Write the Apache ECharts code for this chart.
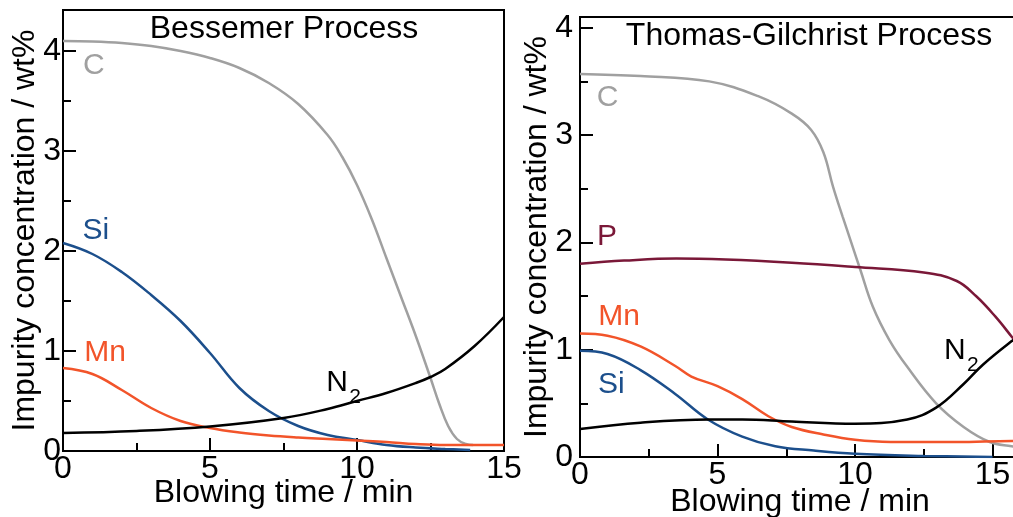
<!DOCTYPE html>
<html><head><meta charset="utf-8">
<script src="https://cdn.jsdelivr.net/npm/echarts@6/dist/echarts.min.js"></script>
<style>html,body{margin:0;padding:0;background:#fff}#c{width:1013px;height:517px}</style>
</head><body><div id="c"></div><script>
// ---- data (time in min, concentration in wt%) ----
const bessemerC  = [[0,4.10],[1,4.095],[2,4.08],[3,4.05],[4,4.00],[5,3.93],[6,3.83],[7,3.68],[8,3.47],[9,3.16],[9.5,2.94],[10,2.66],[10.5,2.32],[11,1.93],[11.5,1.54],[12,1.15],[12.5,0.73],[12.8,0.47],[13.1,0.25],[13.4,0.12],[13.7,0.07],[13.95,0.06]];
const bessemerSi = [[0,2.08],[1,1.97],[2,1.79],[3,1.56],[4,1.30],[5,0.98],[6,0.63],[7,0.40],[8,0.25],[9,0.16],[10,0.11],[11,0.06],[12,0.035],[13,0.02],[13.85,0.01]];
const bessemerMn = [[0,0.83],[1,0.77],[2,0.61],[3,0.43],[4,0.30],[5,0.23],[6,0.185],[7,0.155],[8,0.135],[9,0.12],[10,0.105],[11,0.09],[12,0.07],[13,0.06],[14,0.06],[15,0.06]];
const bessemerN2 = [[0,0.18],[2.5,0.20],[5,0.245],[7.5,0.33],[9,0.42],[10,0.50],[11,0.58],[12,0.68],[12.5,0.74],[13,0.82],[14,1.05],[15,1.34]];

const thomasC  = [[0,3.57],[2.2,3.55],[4.7,3.50],[6.5,3.36],[7.7,3.20],[8.4,3.05],[8.85,2.84],[9.2,2.52],[9.55,2.24],[9.85,2.01],[10.2,1.74],[10.65,1.40],[11.25,1.09],[11.9,0.84],[12.95,0.50],[13.95,0.28],[14.9,0.14],[15.7,0.10],[16,0.09]];
const thomasP  = [[0,1.80],[1.6,1.83],[3.5,1.85],[5.3,1.84],[7.7,1.81],[10,1.77],[12.5,1.72],[13.7,1.64],[14.4,1.50],[15.1,1.31],[15.7,1.12],[16,1.02]];
const thomasMn = [[0,1.15],[1.0,1.13],[2.2,1.03],[3.45,0.85],[4.05,0.75],[5.0,0.66],[5.9,0.54],[6.85,0.38],[7.7,0.28],[8.85,0.21],[10,0.16],[11.3,0.14],[13.7,0.14],[15.7,0.15],[16,0.15]];
const thomasSi = [[0,0.99],[1.0,0.96],[2.2,0.81],[3.45,0.59],[4.65,0.35],[5.9,0.19],[7.1,0.10],[8.5,0.06],[10,0.03],[12.5,0.01],[15,0.0]];
const thomasN2 = [[0,0.26],[2.2,0.32],[4.7,0.35],[5.9,0.35],[7.7,0.33],[10,0.31],[11.9,0.35],[12.95,0.46],[13.95,0.68],[14.65,0.86],[15.7,1.08],[16,1.13]];

const panelTitles = ['Bessemer Process', 'Thomas-Gilchrist Process'];
const xName = 'Blowing time / min';
const yName = 'Impurity concentration / wt%';

// ---- styling ----
const FONT = '"Liberation Sans", Arial, Helvetica, sans-serif';
const COL = { C:'#a0a0a0', Si:'#1c4f8c', Mn:'#f2542a', P:'#7a1838', N2:'#000000' };

const chart = echarts.init(document.getElementById('c'), null, {renderer:'canvas'});

function majorAxis(grid, max, interval, pos, extra) {
  return Object.assign({
    gridIndex: grid, type:'value', min:0, max:max, interval:interval, position:pos,
    axisLine:{show:true, onZero:false, lineStyle:{color:'#000', width:2}},
    axisTick:{show:true, inside:true, length:13, lineStyle:{color:'#000', width:2}},
    splitLine:{show:false},
    nameLocation:'middle', nameMoveOverlap:false,
    nameTextStyle:{color:'#000', fontSize:32, fontFamily:FONT}
  }, extra || {});
}
function minorAxis(grid, max, interval, pos) {
  return {
    gridIndex: grid, type:'value', min:0, max:max, interval:interval, position:pos, offset:0,
    axisLine:{show:false, onZero:false},
    axisTick:{show:true, inside:true, length:8, lineStyle:{color:'#000', width:2}},
    axisLabel:{show:false}, splitLine:{show:false}
  };
}
function line(name, data, xi, yi, color) {
  return { type:'line', name, data, xAxisIndex:xi, yAxisIndex:yi, showSymbol:false, symbol:'none',
    smooth:0.4, lineStyle:{color, width:2.5}, itemStyle:{color}, silent:true, animation:false, z:3 };
}
const lbl = (margin) => ({show:true, color:'#000', fontSize:32, fontFamily:FONT, margin, showMaxLabel:false});

const option = {
  backgroundColor:'#fff',
  animation:false,
  grid:[
    {left:63, right:509, top:10, bottom:66, show:true, borderColor:'#000', borderWidth:2, outerBoundsMode:'none', containLabel:false},
    {left:580, right:-7, top:17, bottom:60, show:true, borderColor:'#000', borderWidth:2, outerBoundsMode:'none', containLabel:false}
  ],
  xAxis:[
    majorAxis(0, 15, 5, 'bottom', {name:xName, nameGap:26, axisLabel:Object.assign(lbl(2), {showMaxLabel:true})}),
    majorAxis(1, 16, 5, 'bottom', {name:xName, nameGap:29, axisLabel:lbl(2)}),
    minorAxis(0, 15, 2.5, 'bottom'),
    minorAxis(1, 16, 2.5, 'bottom')
  ],
  yAxis:[
    majorAxis(0, 4.41, 1, 'left', {name:yName, nameGap:22, axisLabel:lbl(2)}),
    majorAxis(1, 4.10, 1, 'left', {name:yName, nameGap:27, axisLabel:lbl(7)}),
    minorAxis(0, 4.41, 0.5, 'left'),
    minorAxis(1, 4.10, 0.5, 'left')
  ],
  series:[
    line('C', bessemerC, 0, 0, COL.C),
    line('Si', bessemerSi, 0, 0, COL.Si),
    line('Mn', bessemerMn, 0, 0, COL.Mn),
    line('N2', bessemerN2, 0, 0, COL.N2),
    line('C', thomasC, 1, 1, COL.C),
    line('P', thomasP, 1, 1, COL.P),
    line('Mn', thomasMn, 1, 1, COL.Mn),
    line('Si', thomasSi, 1, 1, COL.Si),
    line('N2', thomasN2, 1, 1, COL.N2)
  ]
};
chart.setOption(option);

// ---- curve labels, anchored in data coordinates ----
const curveLabels = [
  {grid:0, text:'C',  at:[1.05,3.85], color:COL.C},
  {grid:0, text:'Si', at:[1.12,2.20], color:COL.Si},
  {grid:0, text:'Mn', at:[1.43,0.98], color:COL.Mn},
  {grid:0, text:'N',  at:[9.32,0.68], color:COL.N2, sub:'2'},
  {grid:1, text:'C',  at:[1.00,3.35], color:COL.C},
  {grid:1, text:'P',  at:[0.98,2.05], color:COL.P},
  {grid:1, text:'Mn', at:[1.42,1.31], color:COL.Mn},
  {grid:1, text:'Si', at:[1.14,0.67], color:COL.Si},
  {grid:1, text:'N',  at:[13.63,0.99], color:COL.N2, sub:'2'}
];
const graphics = [];
curveLabels.forEach(l => {
  const p = chart.convertToPixel({gridIndex:l.grid}, l.at);
  graphics.push({type:'text', x:p[0], y:p[1], z:10,
    style:{text:l.text, fill:l.color, font:'30px ' + FONT, align:'center', verticalAlign:'middle'}});
  if (l.sub) {
    graphics.push({type:'text', x:p[0] + 18, y:p[1] + 14, z:10,
      style:{text:l.sub, fill:l.color, font:'21px ' + FONT, align:'center', verticalAlign:'middle'}});
  }
});
// panel titles inside the plot frames
[[284, 29.5], [809, 36]].forEach((pos, i) => {
  graphics.push({type:'text', x:pos[0], y:pos[1], z:10,
    style:{text:panelTitles[i], fill:'#000', font:'32px ' + FONT, align:'center', verticalAlign:'middle'}});
});
chart.setOption({graphic:graphics});
</script></body></html>
